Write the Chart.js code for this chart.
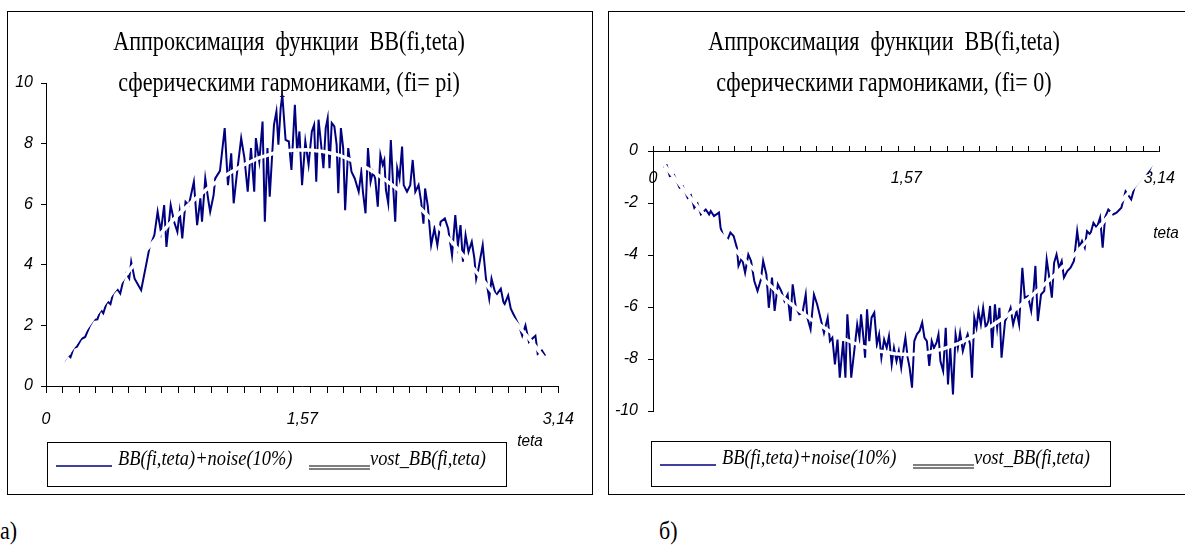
<!DOCTYPE html>
<html lang="ru">
<head>
<meta charset="utf-8">
<title>Аппроксимация функции BB(fi,teta)</title>
<script src="https://cdn.jsdelivr.net/npm/chart.js@4.4.1/dist/chart.umd.min.js"></script>
<style>
  html, body { margin: 0; padding: 0; background: #fff; }
  body { width: 1185px; height: 555px; position: relative; overflow: hidden; }
  .panel { position: absolute; top: 11px; height: 482px; border: 1px solid #000; }
  #panelA { left: 7px; width: 584px; }
  #panelB { left: 608px; width: 600px; }
  .panel canvas { display: block; }
  .caption {
    position: absolute; top: 518px;
    font: 25px "Liberation Serif", "Times New Roman", serif; line-height: 1;
    transform: scaleX(0.88); transform-origin: left top;
  }
</style>
</head>
<body>
<div class="panel" id="panelA"><canvas id="chartA" width="584" height="482"></canvas></div>
<div class="panel" id="panelB"><canvas id="chartB" width="590" height="482"></canvas></div>
<div class="caption" style="left:0">а)</div>
<div class="caption" style="left:659px">б)</div>

<script>
const seriesNames = ["BB(fi,teta)+noise(10%)", "vost_BB(fi,teta)"];
const axisName = "teta";

const titleA = ["Аппроксимация  функции  BB(fi,teta)", "сферическими гармониками, (fi= pi)"];
const titleB = ["Аппроксимация  функции  BB(fi,teta)", "сферическими гармониками, (fi= 0)"];

// x axis: 31 tick marks, labels only at these values
const thetaMax = 3.14;
const xTickCount = 31;
const xLabelValues = [0, 1.57, 3.14];
const xLabelText = ["0", "1,57", "3,14"];

const yTicksA = [0, 2, 4, 6, 8, 10];
const yTicksB = [-10, -8, -6, -4, -2, 0];

// panel a) fi = pi
const thetaNoiseA = [
  0.109, 0.135, 0.150, 0.169, 0.190, 0.216, 0.240, 0.270, 0.290, 0.315,
  0.335, 0.351, 0.375, 0.395, 0.411, 0.436, 0.455, 0.472, 0.492, 0.510,
  0.522, 0.543, 0.583, 0.613, 0.633, 0.664, 0.684, 0.704, 0.724, 0.738,
  0.764, 0.785, 0.805, 0.819, 0.835, 0.855, 0.875, 0.906, 0.926, 0.946,
  0.956, 0.976, 0.996, 1.006, 1.027, 1.037, 1.066, 1.095, 1.115, 1.135,
  1.150, 1.170, 1.196, 1.216, 1.236, 1.256, 1.276, 1.286, 1.307, 1.327,
  1.341, 1.357, 1.371, 1.387, 1.397, 1.412, 1.424, 1.438, 1.448, 1.468,
  1.488, 1.504, 1.525, 1.539, 1.553, 1.569, 1.589, 1.609, 1.629, 1.643,
  1.656, 1.670, 1.686, 1.700, 1.714, 1.726, 1.737, 1.751, 1.767, 1.781,
  1.791, 1.807, 1.821, 1.833, 1.852, 1.872, 1.892, 1.916, 1.932, 1.942,
  1.958, 1.973, 1.989, 2.003, 2.017, 2.033, 2.049, 2.063, 2.073, 2.083,
  2.097, 2.113, 2.129, 2.140, 2.152, 2.166, 2.182, 2.192, 2.212, 2.232,
  2.247, 2.263, 2.283, 2.299, 2.313, 2.323, 2.340, 2.360, 2.380, 2.398,
  2.418, 2.444, 2.464, 2.488, 2.508, 2.524, 2.540, 2.555, 2.571, 2.589,
  2.609, 2.625, 2.636, 2.650, 2.676, 2.696, 2.716, 2.730, 2.757, 2.787,
  2.807, 2.832, 2.848, 2.878, 2.898, 2.918, 2.938, 2.959, 2.979, 2.999,
  3.013, 3.039, 3.059
];
const noiseA = [
  0.80, 1.02, 0.95, 1.25, 1.30, 1.55, 1.62, 2.00, 2.18, 2.20,
  2.52, 2.40, 2.80, 2.70, 3.05, 3.20, 3.05, 3.45, 3.72, 3.55,
  4.10, 3.54, 3.16, 3.98, 4.54, 4.98, 5.75, 5.09, 5.97, 4.59,
  5.97, 5.42, 5.09, 5.75, 4.87, 6.08, 5.97, 6.74, 5.31, 6.19,
  5.42, 6.85, 6.08, 5.75, 6.30, 6.85, 7.10, 8.51, 6.63, 7.68,
  6.03, 7.02, 8.18, 7.52, 6.41, 7.85, 6.41, 8.18, 7.41, 8.73,
  5.42, 7.85, 6.25, 7.74, 8.62, 9.06, 7.96, 9.17, 9.61, 8.12,
  8.07, 7.13, 9.28, 7.74, 8.40, 6.63, 8.07, 7.30, 8.40, 8.62,
  6.74, 8.79, 7.96, 7.19, 8.51, 8.84, 7.19, 8.68, 8.57, 7.96,
  6.36, 8.51, 7.85, 5.80, 7.85, 7.07, 6.85, 6.41, 7.07, 6.41,
  5.70, 7.85, 6.74, 7.07, 6.85, 5.92, 7.63, 7.30, 7.46, 6.47,
  6.03, 8.12, 6.41, 5.42, 7.19, 6.85, 7.90, 6.63, 6.41, 6.63,
  7.46, 6.41, 6.63, 6.08, 5.36, 6.52, 5.92, 4.65, 5.20, 4.65,
  5.42, 5.53, 5.20, 4.31, 5.64, 4.65, 5.31, 4.10, 4.98, 4.43,
  4.76, 4.21, 3.54, 3.87, 4.65, 3.54, 2.88, 3.54, 2.99, 3.21,
  2.66, 2.99, 2.55, 2.22, 2.00, 1.66, 2.00, 1.45, 1.56, 1.66,
  1.06, 1.17, 1.00
];
const thetaVostA = [
  0.10, 0.20, 0.30, 0.40, 0.50, 0.60, 0.70, 0.80, 0.90, 1.00,
  1.10, 1.20, 1.30, 1.40, 1.50, 1.60, 1.70, 1.80, 1.90, 2.00,
  2.10, 2.20, 2.30, 2.40, 2.50, 2.60, 2.70, 2.80, 2.90, 3.00,
  3.05, 3.10, 3.13
];
const vostA = [
  0.78, 1.55, 2.31, 3.04, 3.74, 4.40, 5.02, 5.60, 6.11, 6.56,
  6.95, 7.27, 7.52, 7.69, 7.78, 7.80, 7.74, 7.61, 7.39, 7.09,
  6.72, 6.31, 5.83, 5.28, 4.67, 4.01, 3.34, 2.63, 1.95, 1.30,
  0.95, 0.55, 0.28
];

// panel б) fi = 0
const thetaNoiseB = [
  0.063, 0.085, 0.104, 0.130, 0.165, 0.185, 0.215, 0.235, 0.256, 0.276,
  0.297, 0.327, 0.348, 0.358, 0.378, 0.409, 0.419, 0.439, 0.459, 0.480,
  0.500, 0.520, 0.530, 0.551, 0.571, 0.591, 0.608, 0.628, 0.648, 0.669,
  0.683, 0.703, 0.718, 0.738, 0.754, 0.774, 0.795, 0.815, 0.835, 0.852,
  0.866, 0.886, 0.907, 0.927, 0.947, 0.957, 0.977, 0.998, 1.018, 1.038,
  1.060, 1.083, 1.097, 1.112, 1.128, 1.144, 1.158, 1.179, 1.193, 1.205,
  1.219, 1.229, 1.250, 1.266, 1.280, 1.290, 1.307, 1.315, 1.327, 1.341,
  1.355, 1.372, 1.388, 1.402, 1.416, 1.433, 1.449, 1.463, 1.480, 1.494,
  1.510, 1.524, 1.539, 1.555, 1.565, 1.579, 1.591, 1.606, 1.620, 1.636,
  1.653, 1.669, 1.683, 1.698, 1.713, 1.728, 1.742, 1.758, 1.770, 1.782,
  1.799, 1.815, 1.829, 1.843, 1.860, 1.876, 1.890, 1.904, 1.921, 1.937,
  1.951, 1.966, 1.978, 1.992, 2.006, 2.018, 2.033, 2.047, 2.063, 2.079,
  2.090, 2.103, 2.120, 2.134, 2.148, 2.161, 2.183, 2.203, 2.217, 2.233,
  2.254, 2.270, 2.290, 2.305, 2.325, 2.345, 2.361, 2.371, 2.386, 2.406,
  2.426, 2.441, 2.457, 2.473, 2.487, 2.502, 2.518, 2.534, 2.548, 2.569,
  2.589, 2.610, 2.630, 2.644, 2.660, 2.677, 2.691, 2.711, 2.731, 2.752,
  2.772, 2.788, 2.803, 2.823, 2.853, 2.874, 2.904, 2.930, 2.965, 2.985,
  3.016, 3.046, 3.070, 3.095
];
const noiseB = [
  -0.60, -0.55, -0.96, -0.92, -1.41, -1.36, -1.80, -1.70, -2.18, -2.02,
  -2.44, -2.25, -2.44, -2.31, -2.50, -2.37, -2.95, -3.33, -3.46, -3.14,
  -3.27, -3.72, -4.42, -4.10, -4.68, -3.98, -4.23, -5.00, -5.38, -4.94,
  -4.23, -4.75, -6.03, -4.87, -6.15, -5.13, -5.38, -5.77, -5.52, -6.54,
  -5.13, -6.03, -6.28, -6.22, -5.52, -6.41, -6.86, -5.52, -5.90, -6.41,
  -7.00, -6.41, -7.31, -7.18, -8.21, -7.25, -8.72, -7.31, -8.72, -6.28,
  -7.44, -8.72, -7.57, -6.67, -7.18, -6.28, -7.31, -7.95, -6.09, -7.31,
  -6.41, -6.22, -7.44, -7.05, -7.95, -7.25, -7.57, -7.12, -8.21, -7.57,
  -8.08, -7.69, -8.33, -7.57, -7.18, -7.95, -8.33, -9.10, -7.31, -7.05,
  -6.92, -6.60, -7.18, -7.31, -8.27, -7.31, -7.57, -7.37, -7.05, -8.08,
  -8.46, -6.80, -8.98, -7.57, -9.36, -7.05, -7.57, -6.99, -7.69, -7.31,
  -7.05, -7.44, -8.72, -6.41, -6.80, -6.15, -6.67, -6.03, -6.80, -6.54,
  -5.96, -7.57, -5.90, -6.80, -6.03, -7.95, -6.54, -6.28, -6.03, -6.67,
  -6.15, -6.67, -4.49, -5.64, -5.58, -6.15, -5.26, -4.42, -6.54, -5.52,
  -5.38, -4.17, -4.87, -5.64, -4.30, -3.98, -4.49, -4.23, -4.87, -4.62,
  -4.49, -4.23, -3.08, -3.72, -3.46, -3.72, -3.08, -3.21, -2.76, -2.95,
  -2.56, -3.72, -2.56, -2.25, -2.44, -2.37, -2.18, -1.55, -1.86, -1.41,
  -1.15, -0.90, -0.85, -0.50
];
const thetaVostB = [
  0.05, 0.10, 0.20, 0.30, 0.40, 0.50, 0.60, 0.70, 0.80, 0.90,
  1.00, 1.10, 1.20, 1.30, 1.40, 1.50, 1.60, 1.70, 1.80, 1.90,
  2.00, 2.10, 2.20, 2.30, 2.40, 2.50, 2.60, 2.70, 2.80, 2.90,
  3.00, 3.10, 3.14
];
const vostB = [
  -0.38, -0.78, -1.55, -2.31, -3.04, -3.74, -4.40, -5.02, -5.60, -6.11,
  -6.56, -6.95, -7.27, -7.52, -7.69, -7.80, -7.84, -7.76, -7.61, -7.39,
  -7.09, -6.72, -6.31, -5.83, -5.28, -4.72, -4.08, -3.40, -2.68, -1.95,
  -1.25, -0.45, -0.05
];

function toPoints(xs, ys) {
  return xs.map((x, i) => ({ x: x, y: ys[i] }));
}

// draws text squeezed horizontally, like the narrow fonts of the original
function narrowText(ctx, text, x, y, squeeze) {
  ctx.save();
  ctx.translate(x, y);
  ctx.scale(squeeze, 1);
  ctx.fillText(text, 0, 0);
  ctx.restore();
}

const serifFont = '"Liberation Serif", "Times New Roman", serif';
const sansFont = '"Liberation Sans", Arial, sans-serif';

const panelText = {
  id: "panelText",
  beforeDatasetsDraw(chart, args, opts) {
    const ctx = chart.ctx;
    ctx.save();
    ctx.fillStyle = "#000";
    ctx.textAlign = "center";
    ctx.textBaseline = "alphabetic";
    ctx.font = "27px " + serifFont;
    opts.title.forEach((line, i) => {
      narrowText(ctx, line, opts.titleX, opts.titleY + i * opts.titleStep, 0.82);
    });
    ctx.font = "italic 17px " + sansFont;
    narrowText(ctx, axisName, opts.axisNameX, opts.axisNameY, 0.9);
    ctx.restore();
  },
  afterDraw(chart, args, opts) {
    const ctx = chart.ctx;
    const box = opts.legendBox;
    const noise = chart.data.datasets[0];
    const vost = chart.data.datasets[1];
    const y = box.top + 24;

    ctx.save();
    ctx.strokeStyle = "#000";
    ctx.lineWidth = 1;
    ctx.strokeRect(box.left + 0.5, box.top + 0.5, box.width, box.height);

    ctx.strokeStyle = noise.borderColor;
    ctx.lineWidth = 1.5;
    ctx.beginPath();
    ctx.moveTo(box.left + 9, y);
    ctx.lineTo(box.left + 65, y);
    ctx.stroke();

    // the fitted curve is white in the plot, shown as a grey double line here
    ctx.fillStyle = "#7f7f7f";
    ctx.fillRect(box.left + 262, y - 1, 61, 5);
    ctx.fillStyle = "#fff";
    ctx.fillRect(box.left + 262, y + 1, 61, 1);

    ctx.fillStyle = "#000";
    ctx.textAlign = "left";
    ctx.textBaseline = "alphabetic";
    ctx.font = "italic 20px " + serifFont;
    narrowText(ctx, noise.label, box.left + 71, y - 1, 0.92);
    narrowText(ctx, vost.label, box.left + 323, y - 1, 0.92);
    ctx.restore();
  }
};

const tickFont = { family: sansFont, size: 16, style: "italic" };

function makeChart(canvasId, cfg) {
  return new Chart(document.getElementById(canvasId), {
    type: "line",
    data: {
      datasets: [
        {
          label: seriesNames[0],
          data: toPoints(cfg.thetaNoise, cfg.noise),
          borderColor: "#000080",
          borderWidth: 2,
          pointRadius: 0,
          tension: 0,
          order: 2
        },
        {
          label: seriesNames[1],
          data: toPoints(cfg.thetaVost, cfg.vost),
          borderColor: "#ffffff",
          borderWidth: 3.5,
          pointRadius: 0,
          tension: 0,
          order: 1
        }
      ]
    },
    options: {
      responsive: false,
      animation: false,
      events: [],
      layout: { padding: cfg.padding },
      scales: {
        x: {
          type: "linear",
          position: { y: 0 },
          min: 0,
          max: thetaMax,
          afterBuildTicks: (scale) => {
            const marks = [];
            for (let k = 0; k <= xTickCount; k++) {
              marks.push(+(k * thetaMax / xTickCount).toFixed(4));
            }
            marks.push(xLabelValues[1]);
            marks.sort((a, b) => a - b);
            scale.ticks = marks.map((v) => ({ value: v }));
          },
          ticks: {
            autoSkip: false,
            maxRotation: 0,
            color: "#000",
            font: tickFont,
            padding: cfg.xLabelPadding,
            callback: (value) => {
              const i = xLabelValues.indexOf(value);
              return i >= 0 ? xLabelText[i] : "";
            }
          },
          grid: {
            drawOnChartArea: false,
            tickLength: cfg.xTickLength,
            tickColor: (c) => (c.tick && c.tick.value === xLabelValues[1] ? "rgba(0,0,0,0)" : "#000")
          },
          border: { color: "#000", width: 1 }
        },
        y: {
          position: "left",
          min: cfg.yTicks[0],
          max: cfg.yTicks[cfg.yTicks.length - 1],
          afterFit: (scale) => {
            scale.width = cfg.yAxisWidth;
          },
          ticks: {
            stepSize: cfg.yTicks[1] - cfg.yTicks[0],
            color: "#000",
            font: tickFont,
            padding: cfg.yLabelPadding
          },
          grid: { drawOnChartArea: false, tickLength: 5, tickColor: "#000" },
          border: { color: "#000", width: 1 }
        }
      },
      plugins: {
        legend: { display: false },
        title: { display: false },
        tooltip: { enabled: false },
        panelText: cfg.text
      }
    },
    plugins: [panelText]
  });
}

makeChart("chartA", {
  thetaNoise: thetaNoiseA, noise: noiseA,
  thetaVost: thetaVostA, vost: vostA,
  yTicks: yTicksA,
  padding: { left: 0, top: 71, right: 27, bottom: 108 },
  yAxisWidth: 38,
  yLabelPadding: 8,
  xTickLength: 6,
  xLabelPadding: 18,
  text: {
    title: titleA, titleX: 281, titleY: 38, titleStep: 41,
    axisNameX: 522, axisNameY: 434,
    legendBox: { left: 39, top: 430, width: 459, height: 44 }
  }
});

makeChart("chartB", {
  thetaNoise: thetaNoiseB, noise: noiseB,
  thetaVost: thetaVostB, vost: vostB,
  yTicks: yTicksB,
  padding: { left: 0, top: 139, right: 31, bottom: 83 },
  yAxisWidth: 44,
  yLabelPadding: 10,
  xTickLength: -6,
  xLabelPadding: 24,
  text: {
    title: titleB, titleX: 275, titleY: 38, titleStep: 41,
    axisNameX: 557, axisNameY: 226,
    legendBox: { left: 42, top: 429, width: 459, height: 45 }
  }
});
</script>
</body>
</html>
